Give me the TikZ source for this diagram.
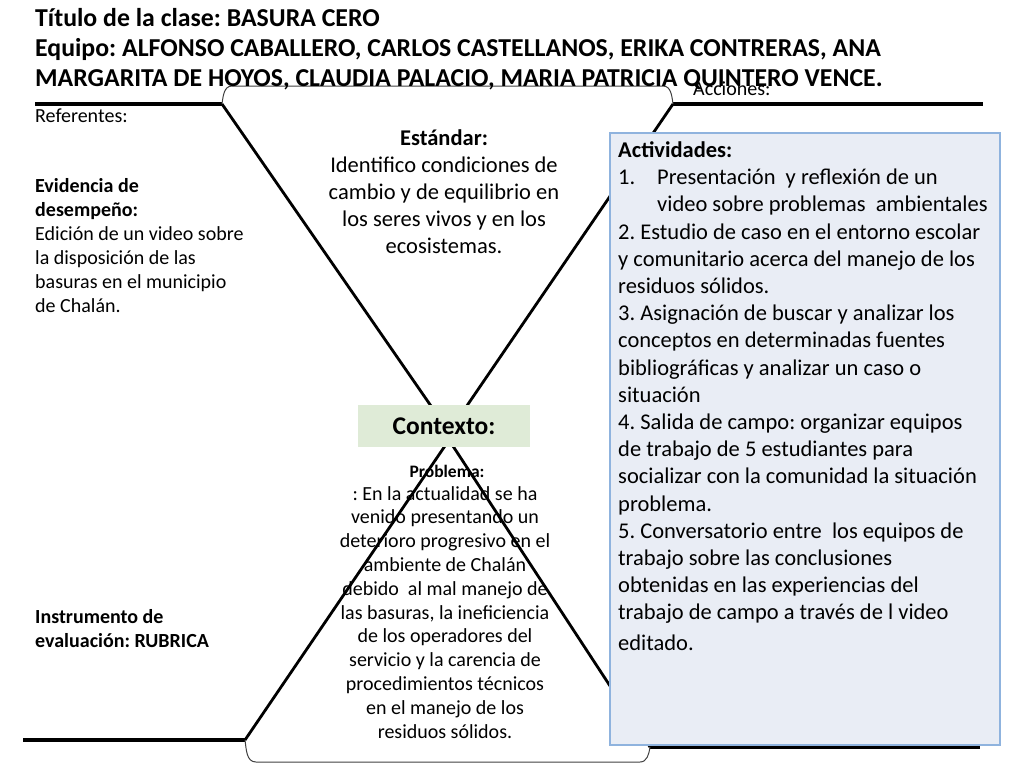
\documentclass[tikz,border=0pt]{standalone}
\usepackage{fontspec}
\setmainfont{Carlito}
\frenchspacing
\usetikzlibrary{positioning}

\definecolor{ctxgreen}{HTML}{DFEBD7}
\definecolor{actfill}{HTML}{E9EDF5}
\definecolor{actborder}{HTML}{8FB3DE}

\begin{document}
\begin{tikzpicture}[
  x=1pt, y=-1pt,
  bar/.style={line width=3.6pt},
  leg/.style={line width=2.8pt},
  brace/.style={draw=black!75, line width=1pt},
  txt/.style={inner sep=0pt, anchor=base west, align=left, font=\fontsize{20}{24}\selectfont},
  mid/.style={inner sep=0pt, anchor=base, align=center},
  ctxbox/.style={fill=ctxgreen, minimum width=172pt, minimum height=42pt, inner sep=0pt, font=\bfseries\fontsize{25.5}{28}\selectfont},
  actbox/.style={draw=actborder, fill=actfill, line width=1.2pt, minimum width=390pt, minimum height=612pt, inner sep=0pt},
]
\useasboundingbox (0,0) rectangle (1024,768);
% frame of the V
\coordinate (tl) at (222,104);
\coordinate (tr) at (673,104);
\coordinate (bl) at (245,740);
\coordinate (br) at (650,747);
\coordinate (apx) at (449,432);
\coordinate (apb) at (449,440);
\draw[bar] (35,104) -- (tl);
\draw[bar] (tr) -- (983,104);
\draw[bar] (23,740) -- (bl);
\draw[bar] (br) -- (980,747);
\draw[leg] (tl) -- (apx) -- (tr);
\draw[leg] (bl) -- (apb) -- (br);
\draw[brace] (tl) to[out=82,in=180] (232,86) -- (663,86) to[out=0,in=98] (tr);
\draw[brace] (bl) to[out=-82,in=180] (256,762) -- (640,762) to[out=0,in=-98] (br);

% multi-line texts are placed by the baseline of their last line
\node[txt] (acc) at (693,95) {Acciones:};
\node[txt, font=\bfseries\fontsize{25.8}{29.5}\selectfont] (title) at (35,86)
  {Título de la clase: BASURA CERO\\
   Equipo: ALFONSO CABALLERO, CARLOS CASTELLANOS, ERIKA CONTRERAS, ANA\\
   MARGARITA DE HOYOS, CLAUDIA PALACIO, MARIA PATRICIA QUINTERO VENCE.};

% left column
\node[txt] (ref) at (35,122) {Referentes:};
\node[txt] (evid) at (35,312) {\textbf{Evidencia de}\\ \textbf{desempeño:}\\
  Edición de un video sobre\\ la disposición de las\\ basuras en el municipio\\ de Chalán.};
\node[txt, font=\bfseries\fontsize{20}{24}\selectfont] (instr) at (35,647) {Instrumento de\\ evaluación: RUBRICA};

% centre
\node[mid, font=\fontsize{22.5}{27}\selectfont] (est) at (444,253) {\textbf{Estándar:}\\
  Identifico condiciones de\\ cambio y de equilibrio en\\ los seres vivos y en los\\ ecosistemas.};
\node[ctxbox] (ctx) at (444,426) {Contexto:};
\node[mid, font=\bfseries\fontsize{17.5}{20}\selectfont] (probt) at (447,477) {Problema:};
\node[mid, font=\fontsize{20}{23.8}\selectfont] (prob) at (445,738) {: En la actualidad se ha\\
  venido presentando un\\ deterioro progresivo en el\\ ambiente de Chalán\\ debido~ al mal manejo de\\
  las basuras, la ineficiencia\\ de los operadores del\\ servicio y la carencia de\\
  procedimientos técnicos\\ en el manejo de los\\ residuos sólidos.};

% right box
\node[actbox] (act) at (805,439) {};
\node[txt, font=\fontsize{22.5}{27.2}\selectfont] (acts) at (618,650) {\textbf{Actividades:}\\
  \makebox[39pt][l]{1.}Presentación~ y reflexión de un\\
  \hspace*{39pt}video sobre problemas~ ambientales\\
  2. Estudio de caso en el entorno escolar\\
  y comunitario acerca del manejo de los\\
  residuos sólidos.\\
  3. Asignación de buscar y analizar los\\
  conceptos en determinadas fuentes\\
  bibliográficas y analizar un caso o\\
  situación\\
  4. Salida de campo: organizar equipos\\
  de trabajo de 5 estudiantes para\\
  socializar con la comunidad la situación\\
  problema.\\
  5. Conversatorio entre~ los equipos de\\
  trabajo sobre las conclusiones\\
  obtenidas en las experiencias del\\
  trabajo de campo a través de l video\\[3pt]
  editado.};
\end{tikzpicture}
\end{document}
